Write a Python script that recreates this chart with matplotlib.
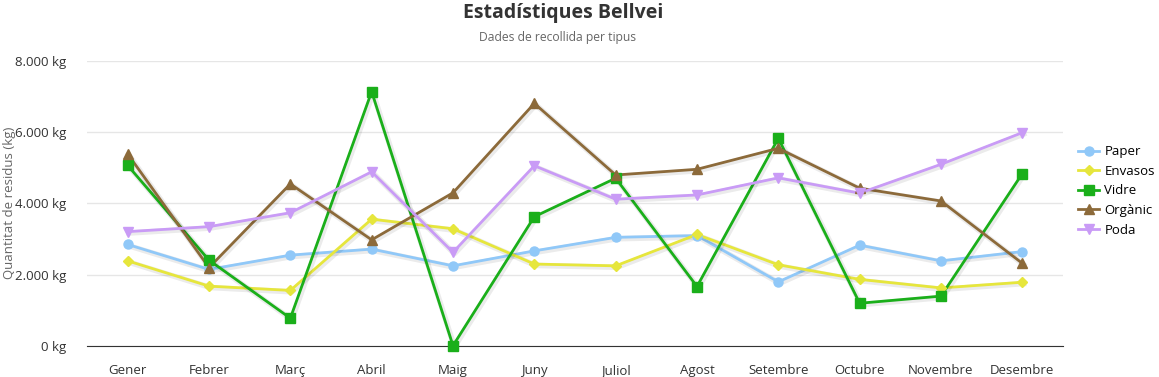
import matplotlib.pyplot as plt
import matplotlib.patheffects as pe
from matplotlib.lines import Line2D
from matplotlib.ticker import FuncFormatter

plt.rcParams['font.family'] = ['Open Sans', 'DejaVu Sans']

# Mesos
mesos = ['Gener', 'Febrer', 'Març', 'Abril', 'Maig', 'Juny', 'Juliol',
         'Agost', 'Setembre', 'Octubre', 'Novembre', 'Desembre']

# Quantitats en kg
paper = [2850, 2150, 2550, 2720, 2250, 2670, 3050, 3100, 1800, 2830, 2390, 2650]
envasos = [2390, 1680, 1560, 3560, 3290, 2300, 2250, 3130, 2280, 1870, 1630, 1790]
vidre = [5070, 2410, 780, 7140, 10, 3630, 4710, 1670, 5830, 1200, 1400, 4840]
organic = [5390, 2200, 4550, 2980, 4300, 6810, 4800, 4960, 5550, 4430, 4070, 2320]
poda = [3210, 3350, 3740, 4890, 2630, 5060, 4120, 4240, 4720, 4290, 5100, 5990]

series = [
    ('Paper', paper, '#90c8f8', 'o', 6.5),
    ('Envasos', envasos, '#e6e63c', 'D', 5),
    ('Vidre', vidre, '#1aaf1a', 's', 6.5),
    ('Orgànic', organic, '#8c6a3a', '^', 7),
    ('Poda', poda, '#c99bf6', 'v', 7),
]

fig = plt.figure(figsize=(11.59, 3.77), dpi=100)
ax = fig.add_axes([87 / 1159, 31 / 377, 976 / 1159, 285 / 377])

x = list(range(len(mesos)))
shadow = [pe.SimpleLineShadow(offset=(1, -1), shadow_color='#000000', alpha=0.08, linewidth=4), pe.Normal()]

handles = []
for nom, vals, col, mk, ms in series:
    ax.plot(x, vals, color=col, linewidth=2, clip_on=False, path_effects=shadow, zorder=3)
    ax.plot(x, vals, color=col, marker=mk, markersize=ms, linestyle='none', clip_on=False, zorder=4)
    handles.append(Line2D([], [], color=col, marker=mk, markersize=ms, linewidth=2, label=nom))

ax.set_xlim(-0.5, 11.5)
ax.set_ylim(0, 8000)
ax.set_yticks([0, 2000, 4000, 6000, 8000])
ax.yaxis.set_major_formatter(FuncFormatter(lambda v, p: '{:,.0f} kg'.format(v).replace(',', '.')))
ax.set_xticks(x)
ax.set_xticklabels(mesos)

ax.grid(axis='y', color='#e6e6e6', linewidth=1)
ax.set_axisbelow(True)
for s in ['top', 'right', 'left']:
    ax.spines[s].set_visible(False)
ax.spines['bottom'].set_color('#333333')
ax.tick_params(axis='both', length=0, labelsize=9.5, colors='#333333')
ax.tick_params(axis='x', pad=13)
ax.tick_params(axis='y', pad=15)

fig.text(10 / 1159, 1 - 203 / 377, 'Quantitat de residus (kg)', rotation=90, ha='center', va='center',
         fontsize=9.5, color='#666666')

fig.text(563 / 1159, 1 - 13 / 377, 'Estadístiques Bellvei', ha='center', va='center',
         fontsize=14, fontweight='bold', color='#333333')
fig.text(558 / 1159, 1 - 38 / 377, 'Dades de recollida per tipus', ha='center', va='center',
         fontsize=8.7, color='#666666')

fig.legend(handles=handles, loc='center left', bbox_to_anchor=(1078 / 1159, 1 - 191 / 377),
           frameon=False, fontsize=9.5, handlelength=1.6, labelspacing=0.5, handletextpad=0.4,
           borderaxespad=0, borderpad=0)

fig.savefig('out.png', dpi=100)
